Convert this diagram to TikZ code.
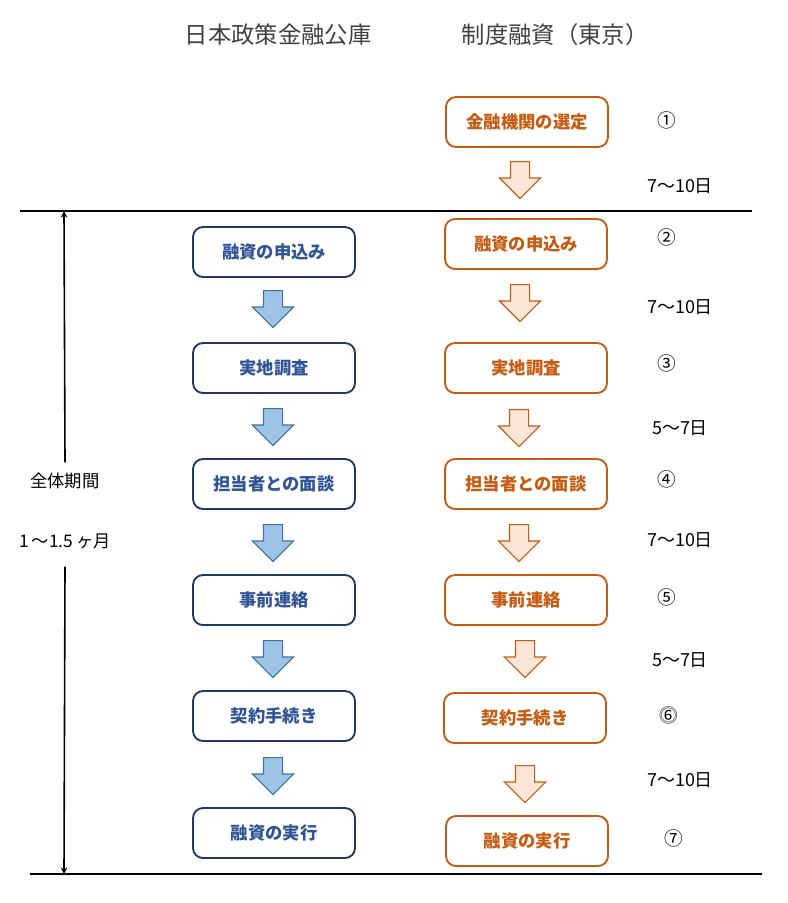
\documentclass[tikz,border=0pt]{standalone}
\usepackage{fontspec}
\setmainfont{Noto Sans CJK JP}
\usetikzlibrary{arrows,shapes.arrows}
\definecolor{bluedark}{HTML}{203864}
\definecolor{bluetext}{HTML}{2F5597}
\definecolor{bluefill}{HTML}{9DC3E6}
\definecolor{blueline}{HTML}{41719C}
\definecolor{orangeline}{HTML}{C55A11}
\definecolor{orangefill}{HTML}{FBE5D6}
\definecolor{headgray}{HTML}{404040}

\begin{document}
\begin{tikzpicture}[x=0.75pt,y=-0.75pt,>=stealth,
  bbox/.style={rectangle,rounded corners=7.5pt,draw=bluedark,line width=1.4pt,
    minimum width=121.5pt,minimum height=37.5pt,text=bluetext,font=\fontsize{13pt}{15pt}\selectfont\bfseries},
  obox/.style={bbox,draw=orangeline,text=orangeline},
  barrow/.style={single arrow,shape border rotate=270,draw=blueline,fill=bluefill,line width=0.9pt,
    minimum height=27.75pt,inner sep=6.75pt,single arrow head extend=8.25pt,anchor=tail},
  oarrow/.style={barrow,draw=orangeline,fill=orangefill},
  head/.style={text=headgray,font=\fontsize{17.5pt}{20pt}\selectfont},
  days/.style={font=\fontsize{13.5pt}{15pt}\selectfont},
  stepnum/.style={font=\fontsize{14pt}{16pt}\selectfont}]
\useasboundingbox (0,0) rectangle (788,903);
% headers
\node (hl) [head] at (278,35) {日本政策金融公庫};
\node (hr) [head] at (555,35) {制度融資（東京）};
% left column
\node (b1) [bbox] at (274,252) {融資の申込み};
\node (b2) [bbox] at (274,368) {実地調査};
\node (b3) [bbox] at (274,484) {担当者との面談};
\node (b4) [bbox] at (274,600) {事前連絡};
\node (b5) [bbox] at (274,716) {契約手続き};
\node (b6) [bbox] at (274,833) {融資の実行};
\node (ba1) [barrow] at (273,290) {};
\node (ba2) [barrow] at (273,408) {};
\node (ba3) [barrow] at (273,524) {};
\node (ba4) [barrow] at (273,640) {};
\node (ba5) [barrow] at (273,757) {};
% right column
\node (o0) [obox] at (527,122) {金融機関の選定};
\node (o1) [obox] at (526,244) {融資の申込み};
\node (o2) [obox] at (526,368) {実地調査};
\node (o3) [obox] at (526,484) {担当者との面談};
\node (o4) [obox] at (526,600) {事前連絡};
\node (o5) [obox] at (525,718) {契約手続き};
\node (o6) [obox] at (527,841) {融資の実行};
\node (oa0) [oarrow] at (520,161) {};
\node (oa1) [oarrow] at (520,284) {};
\node (oa2) [oarrow] at (519,409) {};
\node (oa3) [oarrow] at (519,524) {};
\node (oa4) [oarrow] at (525,640) {};
\node (oa5) [oarrow] at (525,765) {};
% step numbers and days
\node (n1) [stepnum] at (667,120) {①};
\node (n2) [stepnum] at (667,237) {②};
\node (n3) [stepnum] at (667,363) {③};
\node (n4) [stepnum] at (667,479) {④};
\node (n5) [stepnum] at (667,597) {⑤};
\node (n6) [stepnum] at (669,715) {⓺};
\node (n7) [stepnum] at (674,838) {⑦};
\node (d1) [days] at (680,186) {7〜10日};
\node (d2) [days] at (680,307) {7〜10日};
\node (d3) [days] at (680,428) {5〜7日};
\node (d4) [days] at (680,540) {7〜10日};
\node (d5) [days] at (680,660) {5〜7日};
\node (d6) [days] at (680,780) {7〜10日};
% total period
\coordinate (la) at (20,211);
\coordinate (lb) at (752,211);
\coordinate (ma) at (30,874);
\coordinate (mb) at (762,874);
\coordinate (vtop) at (64,211);
\coordinate (vbot) at (64,874);
\draw[line width=1.1pt] (la) -- (lb);
\draw[line width=1.1pt] (ma) -- (mb);
\node (tot) [days,font=\fontsize{13pt}{15pt}\selectfont] at (65,481) {全体期間};
\node (dur) [days,font=\fontsize{13pt}{15pt}\selectfont] at (65,541) {1\,〜1.5\,ヶ月};
\draw[->,line width=1.2pt] ([yshift=4.5pt]tot.north) -- (vtop);
\draw[->,line width=1.2pt] ([yshift=-10pt]dur.south) -- (vbot);
\end{tikzpicture}
\end{document}
